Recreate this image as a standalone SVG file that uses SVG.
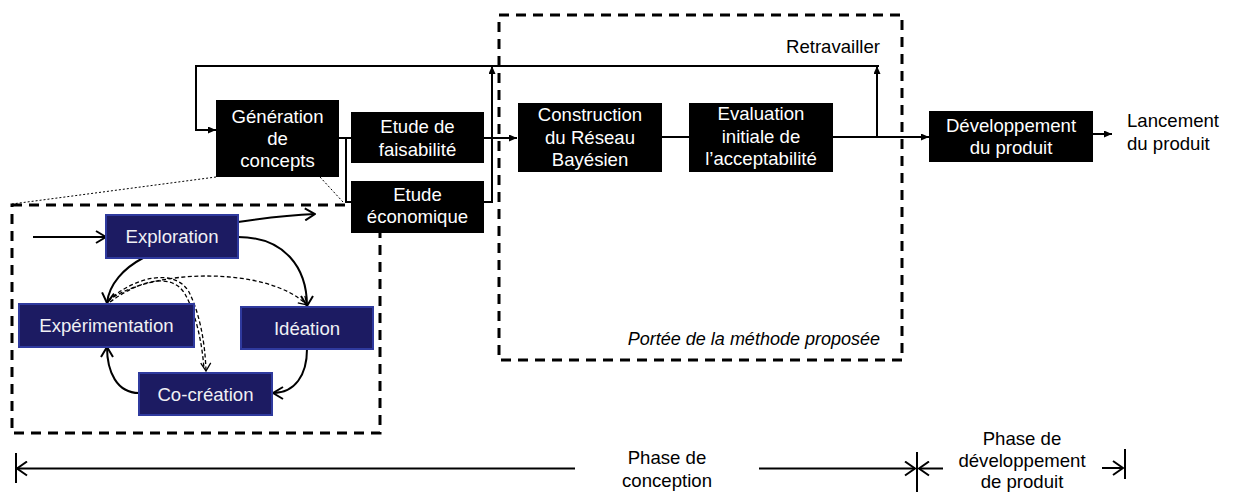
<svg xmlns="http://www.w3.org/2000/svg" width="1234" height="493" viewBox="0 0 1234 493">
<defs>
<style>
text{font-family:"Liberation Sans",Arial,sans-serif;font-size:18.6px;text-anchor:middle}
.bk{fill:#000}
.wt{fill:#fff}
.bl{fill:#1c1b62;stroke:#2f3a9e;stroke-width:2}
.bt{fill:#f0f0f4}
.cn{fill:none;stroke:#000;stroke-width:2}
.ds{fill:none;stroke:#000;stroke-width:1.3;stroke-dasharray:4 2.5}
.dot{fill:none;stroke:#000;stroke-width:1;stroke-dasharray:2 2}
.frame{fill:none;stroke:#000;stroke-width:3;stroke-dasharray:10 7}
</style>
<marker id="af" viewBox="0 0 8 7" refX="8" refY="3.5" markerWidth="8" markerHeight="7" markerUnits="userSpaceOnUse" orient="auto"><path d="M0,0 L8,3.5 L0,7 z" fill="#000"/></marker>
<marker id="ao" viewBox="-1 -1 12 14" refX="10" refY="6" markerWidth="12" markerHeight="14" markerUnits="userSpaceOnUse" orient="auto"><path d="M0,0 L10,6 L0,12" fill="none" stroke="#000" stroke-width="2"/></marker>
<marker id="ad" viewBox="-1 -1 10 12" refX="8" refY="5" markerWidth="10" markerHeight="12" markerUnits="userSpaceOnUse" orient="auto"><path d="M0,0 L8,5 L0,10" fill="none" stroke="#000" stroke-width="1.3"/></marker>
<marker id="at" viewBox="-1 -1 12 16" refX="10" refY="7" markerWidth="12" markerHeight="16" markerUnits="userSpaceOnUse" orient="auto"><path d="M0,0 L10,7 L0,14" fill="none" stroke="#000" stroke-width="2"/></marker>
</defs>
<rect width="1234" height="493" fill="#fff"/>

<g id="frames">
<rect class="frame" x="499" y="15" width="403" height="345"/>
<rect class="frame" x="12" y="205" width="368" height="228"/>
<line class="dot" x1="216" y1="177" x2="12" y2="204"/>
<line class="dot" x1="320" y1="177" x2="343" y2="202"/>
<text x="880" y="53" style="text-anchor:end">Retravailler</text>
<text x="880" y="345" style="text-anchor:end;font-style:italic;font-size:18px">Portée de la méthode proposée</text>
</g>

<g id="connectors">
<path class="cn" d="M879,66 L196,66 L196,130 L216,130" marker-end="url(#af)"/>
<path class="cn" d="M339,138 L351,138"/>
<path class="cn" d="M346,138 L346,202 L351,202"/>
<path class="cn" d="M484,138 L517,138" marker-end="url(#af)"/>
<path class="cn" d="M484,202 L492,202 L492,66" marker-end="url(#af)"/>
<path class="cn" d="M662,137 L689,137"/>
<path class="cn" d="M833,137 L929,137" marker-end="url(#af)"/>
<path class="cn" d="M877,137 L877,66" marker-end="url(#af)"/>
<path class="cn" d="M1093,134 L1112,134" marker-end="url(#af)"/>
<path class="cn" d="M33,237 L106,237" marker-end="url(#ao)"/>
<path class="cn" d="M238,222 C265,218 290,215 315,214" marker-end="url(#ao)"/>
<path class="cn" d="M238,237 C285,237 307,268 307,306" marker-end="url(#ao)"/>
<path class="cn" d="M143,258 C124,268 109,284 107,303" marker-end="url(#ao)"/>
<path class="cn" d="M307,349 C307,375 295,393 273,393" marker-end="url(#ao)"/>
<path class="cn" d="M139,393 C117,393 107,372 107,347" marker-end="url(#ao)"/>
<path class="ds" d="M108,301 C150,268 268,266 307,305" marker-end="url(#ad)"/>
<path class="ds" d="M108,301 C135,276 175,268 189,292 C199,312 205,340 206,371" marker-end="url(#ad)"/>
<path class="ds" d="M110,302 C140,280 172,272 185,294 C196,314 202,342 204,369"/>
</g>

<g id="generation"><rect class="bk" x="216" y="100" width="123" height="77"/>
<text class="wt" x="277.5" y="123">Génération</text><text class="wt" x="277.5" y="145">de</text><text class="wt" x="277.5" y="167">concepts</text></g>
<g id="faisabilite"><rect class="bk" x="351" y="112" width="133" height="51"/>
<text class="wt" x="417.5" y="133">Etude de</text><text class="wt" x="417.5" y="156">faisabilité</text></g>
<g id="economique"><rect class="bk" x="351" y="181" width="133" height="52"/>
<text class="wt" x="417.5" y="201">Etude</text><text class="wt" x="417.5" y="223">économique</text></g>
<g id="construction"><rect class="bk" x="518" y="103" width="144" height="69"/>
<text class="wt" x="590" y="121">Construction</text><text class="wt" x="590" y="144">du Réseau</text><text class="wt" x="590" y="166">Bayésien</text></g>
<g id="evaluation"><rect class="bk" x="689" y="103" width="144" height="69"/>
<text class="wt" x="761" y="120">Evaluation</text><text class="wt" x="761" y="143">initiale de</text><text class="wt" x="761" y="165">l’acceptabilité</text></g>
<g id="developpement"><rect class="bk" x="929" y="111" width="164" height="51"/>
<text class="wt" x="1011" y="132">Développement</text><text class="wt" x="1011" y="154">du produit</text></g>
<g id="lancement"><text x="1127" y="127" style="text-anchor:start">Lancement</text><text x="1127" y="150" style="text-anchor:start">du produit</text></g>

<g id="exploration"><rect class="bl" x="106" y="215" width="132" height="43"/><text class="bt" x="172" y="243">Exploration</text></g>
<g id="experimentation"><rect class="bl" x="19" y="304" width="175" height="43"/><text class="bt" x="106.5" y="332">Expérimentation</text></g>
<g id="ideation"><rect class="bl" x="241" y="307" width="132" height="42"/><text class="bt" x="307" y="335">Idéation</text></g>
<g id="cocreation"><rect class="bl" x="139" y="373" width="133" height="42"/><text class="bt" x="205.5" y="401">Co-création</text></g>

<g id="timeline">
<line class="cn" x1="16" y1="453" x2="16" y2="483"/>
<path class="cn" d="M575,468.5 L17,468.5" marker-end="url(#at)"/>
<path class="cn" d="M759,468.5 L915,468.5" marker-end="url(#at)"/>
<line class="cn" x1="917" y1="452" x2="917" y2="492"/>
<path class="cn" d="M943,468.5 L919,468.5" marker-end="url(#at)"/>
<path class="cn" d="M1102,468 L1123,468" marker-end="url(#at)"/>
<line class="cn" x1="1125" y1="449" x2="1125" y2="479"/>
<text x="667" y="464">Phase de</text><text x="667" y="487">conception</text>
<text x="1022" y="445">Phase de</text><text x="1022" y="467">développement</text><text x="1022" y="488">de produit</text>
</g>
</svg>
